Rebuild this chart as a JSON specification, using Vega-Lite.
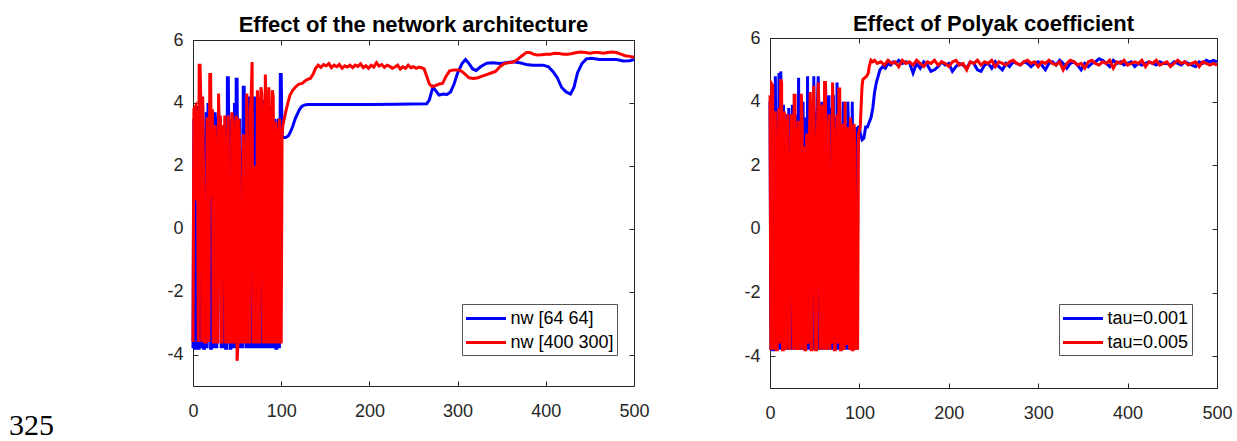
{
  "$schema": "https://vega.github.io/schema/vega-lite/v6.json",
  "padding": {"left": 9, "top": 12, "right": 0, "bottom": 0},
  "bounds": "flush",
  "center": true,
  "spacing": 136,
  "resolve": {"scale": {"color": "independent"}, "legend": {"color": "independent"}},
  "title": {"text": "325", "orient": "bottom", "anchor": "start", "frame": "group", "font": "Liberation Serif", "fontSize": 30, "fontWeight": "normal", "color": "black", "dx": -184, "offset": 12, "baseline": "alphabetic"},
  "config": {
    "font": "Liberation Sans",
    "view": {"stroke": "#262626", "strokeWidth": 1},
    "axis": {"grid": false, "domain": false, "tickColor": "#262626", "tickSize": -5, "tickWidth": 1, "labelFontSize": 18, "labelColor": "#262626", "labelFont": "Liberation Sans", "labelFlush": false, "labelOverlap": false, "title": null, "labelExpr": "datum.value"},
    "axisX": {"labelPadding": 21.5},
    "axisY": {"labelPadding": 15},
    "title": {"fontSize": 22, "fontWeight": "bold", "color": "black", "font": "Liberation Sans", "baseline": "alphabetic", "anchor": "middle"},
    "legend": {"orient": "none", "title": null, "symbolType": "M-2,0H2", "symbolSize": 400, "symbolStrokeWidth": 3, "symbolOffset": 9.5, "labelOffset": 13, "labelFontSize": 18, "labelFont": "Liberation Sans", "labelColor": "black", "strokeColor": "#555555", "fillColor": "white", "padding": 3, "rowPadding": 3}
  },
  "datasets": {
    "L1": [
      {"x":0,"y":-3.8},{"x":1,"y":3.5},{"x":2,"y":-3.8},{"x":3,"y":-3.8},{"x":4,"y":2.2},{"x":5,"y":3.9},{"x":6,"y":-3.8},{"x":7,"y":-3.8},{"x":8,"y":0.8},{"x":9,"y":-3.8},
      {"x":10,"y":3.6},{"x":11,"y":3.9},{"x":12,"y":-3.8},{"x":13,"y":-3.8},{"x":14,"y":2.0},{"x":15,"y":3.7},{"x":16,"y":-3.8},{"x":17,"y":4.0},{"x":18,"y":-0.4},{"x":19,"y":3.8},
      {"x":20,"y":-3.8},{"x":21,"y":-3.8},{"x":22,"y":3.5},{"x":23,"y":1.0},{"x":24,"y":-3.8},{"x":25,"y":3.7},{"x":26,"y":3.0},{"x":27,"y":-3.8},{"x":28,"y":2.5},{"x":29,"y":3.9},
      {"x":30,"y":-0.7},{"x":31,"y":3.5},{"x":32,"y":-3.8},{"x":33,"y":1.5},{"x":34,"y":3.3},{"x":35,"y":-3.8},{"x":36,"y":3.2},{"x":37,"y":-3.8},{"x":38,"y":-3.8},{"x":39,"y":4.8},
      {"x":40,"y":4.8},{"x":41,"y":2.0},{"x":42,"y":-3.8},{"x":43,"y":-3.8},{"x":44,"y":3.5},{"x":45,"y":2.5},{"x":46,"y":-3.8},{"x":47,"y":4.0},{"x":48,"y":-3.8},{"x":49,"y":4.75},
      {"x":50,"y":4.75},{"x":51,"y":-0.8},{"x":52,"y":-3.8},{"x":53,"y":3.5},{"x":54,"y":-3.8},{"x":55,"y":2.5},{"x":56,"y":-3.8},{"x":57,"y":4.5},{"x":58,"y":4.5},{"x":59,"y":2.0},
      {"x":60,"y":-3.8},{"x":61,"y":3.2},{"x":62,"y":-3.8},{"x":63,"y":4.2},{"x":64,"y":4.0},{"x":65,"y":-3.8},{"x":66,"y":3.0},{"x":67,"y":-3.8},{"x":68,"y":4.2},{"x":69,"y":-0.5},
      {"x":70,"y":-3.8},{"x":71,"y":4.2},{"x":72,"y":3.7},{"x":73,"y":-3.8},{"x":74,"y":2.5},{"x":75,"y":-3.8},{"x":76,"y":3.8},{"x":77,"y":-3.8},{"x":78,"y":3.5},{"x":79,"y":-3.8},
      {"x":80,"y":4.1},{"x":81,"y":-3.8},{"x":82,"y":3.5},{"x":83,"y":-3.8},{"x":84,"y":2.8},{"x":85,"y":-3.8},{"x":86,"y":3.5},{"x":87,"y":-3.8},{"x":88,"y":3.9},{"x":89,"y":2.9},
      {"x":90,"y":-3.8},{"x":91,"y":3.4},{"x":92,"y":-3.8},{"x":93,"y":3.5},{"x":94,"y":-3.8},{"x":95,"y":-3.8},{"x":96,"y":3.0},{"x":97,"y":3.5},{"x":98,"y":-3.8},{"x":99,"y":4.9},
      {"x":100,"y":4.9},{"x":101,"y":2.9},{"x":102,"y":2.9},{"x":105,"y":2.9},{"x":108,"y":2.95},{"x":110,"y":3.05},{"x":113,"y":3.25},{"x":116,"y":3.5},{"x":120,"y":3.75},{"x":123,"y":3.88},
      {"x":126,"y":3.93},{"x":130,"y":3.95},{"x":160,"y":3.95},{"x":200,"y":3.95},{"x":230,"y":3.96},{"x":265,"y":3.97},{"x":268,"y":4.1},{"x":272,"y":4.5},{"x":275,"y":4.4},{"x":279,"y":4.25},
      {"x":284,"y":4.28},{"x":288,"y":4.27},{"x":292,"y":4.35},{"x":296,"y":4.6},{"x":300,"y":4.95},{"x":305,"y":5.25},{"x":309,"y":5.38},{"x":313,"y":5.25},{"x":317,"y":5.08},{"x":321,"y":5.03},
      {"x":326,"y":5.15},{"x":333,"y":5.26},{"x":340,"y":5.28},{"x":348,"y":5.25},{"x":355,"y":5.28},{"x":363,"y":5.31},{"x":370,"y":5.28},{"x":378,"y":5.22},{"x":385,"y":5.2},{"x":397,"y":5.2},
      {"x":403,"y":5.15},{"x":408,"y":5.0},{"x":413,"y":4.8},{"x":418,"y":4.49},{"x":423,"y":4.35},{"x":428,"y":4.28},{"x":432,"y":4.5},{"x":436,"y":4.96},{"x":441,"y":5.25},{"x":446,"y":5.4},
      {"x":452,"y":5.42},{"x":461,"y":5.38},{"x":470,"y":5.38},{"x":480,"y":5.38},{"x":488,"y":5.33},{"x":495,"y":5.34},{"x":500,"y":5.38}
    ],
    "L2": [
      {"x":0,"y":-3.6},{"x":1,"y":3.8},{"x":3,"y":3.9},{"x":4,"y":0.9},{"x":5,"y":3.8},{"x":6,"y":-3.6},{"x":7,"y":5.2},{"x":8,"y":5.2},{"x":9,"y":4.0},{"x":10,"y":-3.6},
      {"x":11,"y":4.2},{"x":12,"y":1.6},{"x":13,"y":-3.6},{"x":15,"y":-3.6},{"x":16,"y":3.5},{"x":17,"y":3.5},{"x":18,"y":-3.6},{"x":19,"y":4.9},{"x":20,"y":4.9},{"x":21,"y":1.0},
      {"x":22,"y":3.8},{"x":23,"y":-3.6},{"x":24,"y":-3.6},{"x":25,"y":3.3},{"x":26,"y":2.0},{"x":27,"y":-3.6},{"x":28,"y":-3.6},{"x":29,"y":4.3},{"x":30,"y":2.5},{"x":31,"y":3.6},
      {"x":32,"y":-3.6},{"x":33,"y":-3.6},{"x":34,"y":3.3},{"x":35,"y":-0.5},{"x":36,"y":3.6},{"x":37,"y":-3.6},{"x":38,"y":-3.6},{"x":39,"y":2.0},{"x":40,"y":3.6},{"x":41,"y":-3.6},
      {"x":43,"y":-3.6},{"x":44,"y":3.7},{"x":45,"y":3.4},{"x":46,"y":-3.6},{"x":47,"y":-3.6},{"x":48,"y":3.0},{"x":49,"y":3.6},{"x":50,"y":-4.2},{"x":51,"y":-3.6},{"x":52,"y":3.5},
      {"x":53,"y":2.3},{"x":54,"y":-3.6},{"x":56,"y":-3.6},{"x":57,"y":3.0},{"x":58,"y":2.0},{"x":59,"y":-3.6},{"x":60,"y":-3.6},{"x":61,"y":4.3},{"x":62,"y":0.8},{"x":63,"y":-3.6},
      {"x":64,"y":-3.6},{"x":65,"y":3.8},{"x":66,"y":4.2},{"x":67,"y":5.3},{"x":68,"y":-3.6},{"x":69,"y":-3.6},{"x":70,"y":2.0},{"x":71,"y":-3.6},{"x":72,"y":-3.6},{"x":73,"y":4.4},
      {"x":74,"y":3.9},{"x":75,"y":-3.6},{"x":76,"y":-3.6},{"x":77,"y":4.5},{"x":78,"y":4.3},{"x":79,"y":3.2},{"x":80,"y":-3.6},{"x":81,"y":-3.6},{"x":82,"y":4.9},{"x":83,"y":3.8},
      {"x":84,"y":-3.6},{"x":85,"y":-3.6},{"x":86,"y":4.5},{"x":87,"y":3.0},{"x":88,"y":-3.6},{"x":89,"y":-3.6},{"x":90,"y":4.4},{"x":91,"y":4.2},{"x":92,"y":-3.6},{"x":93,"y":-3.6},
      {"x":94,"y":3.4},{"x":95,"y":2.8},{"x":96,"y":-3.6},{"x":97,"y":-3.6},{"x":98,"y":3.5},{"x":99,"y":-3.6},{"x":100,"y":-3.6},{"x":101,"y":3.0},
      {"x":102,"y":3.3},{"x":105,"y":3.7},{"x":108,"y":4.05},{"x":110,"y":4.25},{"x":113,"y":4.4},{"x":116,"y":4.5},{"x":120,"y":4.6},{"x":124,"y":4.62},
      {"x":127,"y":4.7},{"x":130,"y":4.75},{"x":133,"y":4.78},{"x":136,"y":4.9},{"x":139,"y":5.1},{"x":142,"y":5.2},{"x":145,"y":5.13},{"x":148,"y":5.22},{"x":151,"y":5.18},{"x":154,"y":5.25},
      {"x":157,"y":5.12},{"x":160,"y":5.2},{"x":163,"y":5.15},{"x":166,"y":5.22},{"x":169,"y":5.1},{"x":172,"y":5.18},{"x":175,"y":5.14},{"x":178,"y":5.2},{"x":181,"y":5.12},{"x":184,"y":5.2},
      {"x":187,"y":5.16},{"x":190,"y":5.24},{"x":193,"y":5.12},{"x":196,"y":5.18},{"x":199,"y":5.1},{"x":202,"y":5.2},{"x":205,"y":5.14},{"x":208,"y":5.28},{"x":211,"y":5.17},{"x":214,"y":5.22},
      {"x":217,"y":5.13},{"x":220,"y":5.2},{"x":223,"y":5.16},{"x":226,"y":5.1},{"x":229,"y":5.14},{"x":232,"y":5.2},{"x":235,"y":5.08},{"x":238,"y":5.15},{"x":241,"y":5.1},{"x":244,"y":5.2},
      {"x":247,"y":5.12},{"x":250,"y":5.15},{"x":253,"y":5.1},{"x":256,"y":5.14},{"x":259,"y":5.12},{"x":262,"y":5.08},{"x":265,"y":4.85},{"x":268,"y":4.6},{"x":271,"y":4.52},{"x":275,"y":4.55},
      {"x":279,"y":4.6},{"x":283,"y":4.62},{"x":287,"y":4.85},{"x":291,"y":5.02},{"x":296,"y":5.05},{"x":301,"y":5.05},{"x":305,"y":5.0},{"x":309,"y":4.9},{"x":313,"y":4.8},{"x":318,"y":4.78},
      {"x":323,"y":4.8},{"x":328,"y":4.85},{"x":333,"y":4.9},{"x":338,"y":4.95},{"x":343,"y":5.0},{"x":348,"y":5.15},{"x":353,"y":5.25},{"x":358,"y":5.28},{"x":363,"y":5.3},{"x":368,"y":5.38},
      {"x":373,"y":5.5},{"x":378,"y":5.6},{"x":382,"y":5.6},{"x":386,"y":5.55},{"x":390,"y":5.52},{"x":395,"y":5.53},{"x":400,"y":5.55},{"x":405,"y":5.55},{"x":410,"y":5.58},{"x":415,"y":5.57},
      {"x":420,"y":5.55},{"x":425,"y":5.55},{"x":430,"y":5.57},{"x":435,"y":5.6},{"x":440,"y":5.62},{"x":445,"y":5.6},{"x":450,"y":5.58},{"x":455,"y":5.6},{"x":460,"y":5.6},{"x":465,"y":5.58},
      {"x":470,"y":5.6},{"x":475,"y":5.62},{"x":480,"y":5.6},{"x":485,"y":5.55},{"x":490,"y":5.5},{"x":495,"y":5.48},{"x":500,"y":5.45}
    ],
    "R1": [
      {"x":0,"y":4.0},{"x":1,"y":-3.8},{"x":2,"y":3.4},{"x":3,"y":-3.8},{"x":4,"y":-3.8},{"x":5,"y":1.5},{"x":6,"y":4.8},{"x":7,"y":-1.5},{"x":8,"y":3.8},{"x":9,"y":-3.8},
      {"x":10,"y":4.9},{"x":11,"y":-3.8},{"x":12,"y":4.95},{"x":13,"y":3.8},{"x":14,"y":-3.8},{"x":15,"y":3.9},{"x":16,"y":1.0},{"x":17,"y":-3.8},{"x":18,"y":3.6},{"x":19,"y":2.8},
      {"x":20,"y":-3.8},{"x":21,"y":3.8},{"x":22,"y":-3.8},{"x":23,"y":3.2},{"x":24,"y":-3.8},{"x":25,"y":3.9},{"x":26,"y":2.5},{"x":27,"y":-3.8},{"x":28,"y":3.0},{"x":29,"y":-3.8},
      {"x":30,"y":3.6},{"x":31,"y":-3.8},{"x":32,"y":4.75},{"x":33,"y":-3.8},{"x":34,"y":4.1},{"x":35,"y":1.4},{"x":36,"y":-3.8},{"x":37,"y":4.0},{"x":38,"y":-3.8},{"x":39,"y":3.5},
      {"x":40,"y":2.4},{"x":41,"y":-3.8},{"x":42,"y":4.8},{"x":43,"y":-3.8},{"x":44,"y":3.9},{"x":45,"y":-3.8},{"x":46,"y":3.4},{"x":47,"y":2.6},{"x":48,"y":-3.8},{"x":49,"y":4.8},
      {"x":50,"y":-3.8},{"x":51,"y":3.7},{"x":52,"y":-3.8},{"x":53,"y":3.9},{"x":54,"y":4.8},{"x":55,"y":-3.8},{"x":56,"y":2.0},{"x":57,"y":-3.8},{"x":58,"y":4.0},{"x":59,"y":-3.8},
      {"x":60,"y":3.2},{"x":61,"y":-3.8},{"x":62,"y":4.6},{"x":63,"y":3.5},{"x":64,"y":-3.8},{"x":65,"y":3.6},{"x":66,"y":4.2},{"x":67,"y":-3.8},{"x":68,"y":1.4},{"x":69,"y":3.8},
      {"x":70,"y":-3.8},{"x":71,"y":4.2},{"x":72,"y":-3.8},{"x":73,"y":3.5},{"x":74,"y":-3.8},{"x":75,"y":4.6},{"x":76,"y":2.4},{"x":77,"y":-3.8},{"x":78,"y":3.8},{"x":79,"y":-3.8},
      {"x":80,"y":3.0},{"x":81,"y":-3.8},{"x":82,"y":4.0},{"x":83,"y":2.6},{"x":84,"y":-3.8},{"x":85,"y":3.3},{"x":86,"y":-3.8},{"x":87,"y":4.0},{"x":88,"y":3.1},{"x":89,"y":-3.8},
      {"x":90,"y":1.8},{"x":91,"y":-3.8},{"x":92,"y":4.0},{"x":93,"y":-0.4},{"x":94,"y":-3.8},{"x":95,"y":2.0},{"x":96,"y":-3.8},{"x":97,"y":3.2},{"x":98,"y":3.1},{"x":99,"y":3.2},
      {"x":100,"y":3.2},{"x":101,"y":3.0},{"x":103,"y":2.8},{"x":105,"y":2.85},{"x":107,"y":3.2},{"x":109,"y":3.2},{"x":111,"y":3.35},{"x":113,"y":3.5},{"x":115,"y":3.8},{"x":117,"y":4.3},
      {"x":119,"y":4.6},{"x":121,"y":4.8},{"x":123,"y":5.0},{"x":126,"y":5.1},{"x":129,"y":5.05},{"x":132,"y":5.2},{"x":135,"y":5.15},{"x":138,"y":5.25},{"x":141,"y":5.2},{"x":144,"y":5.3},
      {"x":148,"y":5.2},{"x":152,"y":5.25},{"x":156,"y":5.22},{"x":160,"y":4.9},{"x":164,"y":5.2},{"x":168,"y":5.05},{"x":172,"y":5.25},{"x":176,"y":5.15},{"x":180,"y":4.95},{"x":184,"y":5.0},
      {"x":188,"y":5.1},{"x":192,"y":5.25},{"x":196,"y":5.15},{"x":200,"y":5.2},{"x":204,"y":4.95},{"x":208,"y":5.1},{"x":212,"y":5.2},{"x":216,"y":5.15},{"x":220,"y":5.05},{"x":224,"y":5.25},
      {"x":228,"y":5.2},{"x":232,"y":5.0},{"x":236,"y":4.95},{"x":240,"y":5.15},{"x":244,"y":5.2},{"x":248,"y":5.05},{"x":252,"y":5.25},{"x":256,"y":5.1},{"x":260,"y":5.0},{"x":264,"y":5.2},
      {"x":268,"y":5.1},{"x":272,"y":5.25},{"x":276,"y":5.2},{"x":280,"y":5.15},{"x":284,"y":5.25},{"x":288,"y":5.2},{"x":292,"y":5.1},{"x":296,"y":5.2},{"x":300,"y":5.25},{"x":304,"y":5.15},
      {"x":308,"y":5.0},{"x":312,"y":5.2},{"x":316,"y":5.25},{"x":320,"y":5.15},{"x":324,"y":5.3},{"x":328,"y":5.2},{"x":332,"y":5.05},{"x":336,"y":5.2},{"x":340,"y":5.25},{"x":344,"y":5.15},
      {"x":348,"y":5.0},{"x":352,"y":5.2},{"x":356,"y":5.1},{"x":360,"y":5.2},{"x":364,"y":5.25},{"x":368,"y":5.35},{"x":372,"y":5.3},{"x":376,"y":5.2},{"x":380,"y":5.1},{"x":384,"y":5.3},
      {"x":388,"y":5.2},{"x":392,"y":5.25},{"x":396,"y":5.15},{"x":400,"y":5.2},{"x":404,"y":5.25},{"x":408,"y":5.1},{"x":412,"y":5.2},{"x":416,"y":5.15},{"x":420,"y":5.2},{"x":424,"y":5.25},
      {"x":428,"y":5.2},{"x":432,"y":5.15},{"x":436,"y":5.25},{"x":440,"y":5.2},{"x":444,"y":5.2},{"x":448,"y":5.15},{"x":452,"y":5.25},{"x":456,"y":5.2},{"x":460,"y":5.15},{"x":464,"y":5.25},
      {"x":468,"y":5.2},{"x":472,"y":5.15},{"x":476,"y":5.1},{"x":480,"y":5.25},{"x":484,"y":5.2},{"x":488,"y":5.3},{"x":492,"y":5.25},{"x":496,"y":5.3},{"x":500,"y":5.25}
    ],
    "R2": [
      {"x":0,"y":4.2},{"x":1,"y":-3.8},{"x":2,"y":4.55},{"x":3,"y":4.5},{"x":4,"y":-3.8},{"x":5,"y":-3.6},{"x":6,"y":3.7},{"x":7,"y":-3.8},{"x":8,"y":-3.8},{"x":9,"y":2.0},
      {"x":10,"y":3.8},{"x":11,"y":-3.6},{"x":12,"y":4.7},{"x":13,"y":4.6},{"x":14,"y":-3.8},{"x":15,"y":-3.8},{"x":16,"y":3.7},{"x":17,"y":0.0},{"x":18,"y":-3.8},{"x":19,"y":3.2},
      {"x":20,"y":3.6},{"x":21,"y":-3.6},{"x":22,"y":-3.8},{"x":23,"y":0.4},{"x":24,"y":3.6},{"x":25,"y":3.3},{"x":26,"y":-3.8},{"x":27,"y":4.2},{"x":28,"y":4.2},{"x":29,"y":-3.6},
      {"x":30,"y":-3.8},{"x":31,"y":2.8},{"x":32,"y":3.4},{"x":33,"y":-3.8},{"x":34,"y":-3.6},{"x":35,"y":4.25},{"x":36,"y":3.3},{"x":37,"y":-3.8},{"x":38,"y":2.6},{"x":39,"y":-3.8},
      {"x":40,"y":-3.8},{"x":41,"y":3.0},{"x":42,"y":2.4},{"x":43,"y":-3.6},{"x":44,"y":2.8},{"x":45,"y":4.3},{"x":46,"y":-3.8},{"x":47,"y":-3.8},{"x":48,"y":3.6},{"x":49,"y":4.5},
      {"x":50,"y":1.8},{"x":51,"y":-3.8},{"x":52,"y":-3.8},{"x":53,"y":2.9},{"x":54,"y":4.6},{"x":55,"y":3.5},{"x":56,"y":-3.8},{"x":57,"y":-3.6},{"x":58,"y":3.9},{"x":59,"y":3.7},
      {"x":60,"y":-3.8},{"x":61,"y":4.6},{"x":62,"y":4.6},{"x":63,"y":-3.8},{"x":64,"y":-3.6},{"x":65,"y":2.8},{"x":66,"y":3.6},{"x":67,"y":-3.8},{"x":68,"y":2.0},{"x":69,"y":-3.6},
      {"x":70,"y":4.6},{"x":71,"y":3.2},{"x":72,"y":-3.8},{"x":73,"y":-3.8},{"x":74,"y":2.4},{"x":75,"y":3.6},{"x":76,"y":-3.6},{"x":77,"y":4.4},{"x":78,"y":4.4},{"x":79,"y":-3.8},
      {"x":80,"y":-3.8},{"x":81,"y":3.3},{"x":82,"y":2.4},{"x":83,"y":-3.8},{"x":84,"y":4.0},{"x":85,"y":-3.6},{"x":86,"y":-3.6},{"x":87,"y":3.2},{"x":88,"y":1.5},{"x":89,"y":-3.8},
      {"x":90,"y":3.5},{"x":91,"y":3.0},{"x":92,"y":-3.8},{"x":93,"y":-3.8},{"x":94,"y":3.3},{"x":95,"y":2.6},{"x":96,"y":-3.8},{"x":97,"y":0.0},{"x":98,"y":-3.8},{"x":99,"y":3.0},
      {"x":100,"y":3.1},{"x":101,"y":3.2},{"x":102,"y":3.9},{"x":103,"y":4.5},{"x":104,"y":4.7},{"x":106,"y":4.75},{"x":108,"y":4.8},{"x":110,"y":4.9},{"x":111,"y":5.1},{"x":113,"y":5.3},
      {"x":115,"y":5.25},{"x":117,"y":5.3},{"x":120,"y":5.2},{"x":124,"y":5.25},{"x":128,"y":5.15},{"x":132,"y":5.3},{"x":136,"y":5.2},{"x":140,"y":5.25},{"x":144,"y":5.1},{"x":148,"y":5.3},
      {"x":152,"y":5.2},{"x":156,"y":5.25},{"x":160,"y":5.15},{"x":164,"y":5.3},{"x":168,"y":5.2},{"x":172,"y":5.1},{"x":176,"y":5.25},{"x":180,"y":5.2},{"x":184,"y":5.3},{"x":188,"y":5.15},
      {"x":192,"y":5.25},{"x":196,"y":5.2},{"x":200,"y":5.1},{"x":204,"y":5.25},{"x":208,"y":5.3},{"x":212,"y":5.15},{"x":216,"y":5.2},{"x":220,"y":5.0},{"x":224,"y":5.25},{"x":228,"y":5.2},
      {"x":232,"y":5.3},{"x":236,"y":5.15},{"x":240,"y":5.25},{"x":244,"y":5.2},{"x":248,"y":5.3},{"x":252,"y":5.1},{"x":256,"y":5.25},{"x":260,"y":5.2},{"x":264,"y":5.15},{"x":268,"y":5.25},
      {"x":272,"y":5.3},{"x":276,"y":5.2},{"x":280,"y":5.15},{"x":284,"y":5.25},{"x":288,"y":5.3},{"x":292,"y":5.2},{"x":296,"y":5.25},{"x":300,"y":5.1},{"x":304,"y":5.25},{"x":308,"y":5.2},
      {"x":312,"y":5.3},{"x":316,"y":5.2},{"x":320,"y":5.15},{"x":324,"y":5.25},{"x":328,"y":5.0},{"x":332,"y":5.2},{"x":336,"y":5.3},{"x":340,"y":5.25},{"x":344,"y":5.15},{"x":348,"y":5.2},
      {"x":352,"y":5.05},{"x":356,"y":5.25},{"x":360,"y":5.3},{"x":364,"y":5.2},{"x":368,"y":5.15},{"x":372,"y":5.25},{"x":376,"y":5.2},{"x":380,"y":5.3},{"x":384,"y":5.05},{"x":388,"y":5.25},
      {"x":392,"y":5.2},{"x":396,"y":5.3},{"x":400,"y":5.15},{"x":404,"y":5.2},{"x":408,"y":5.25},{"x":412,"y":5.2},{"x":416,"y":5.3},{"x":420,"y":5.1},{"x":424,"y":5.25},{"x":428,"y":5.2},
      {"x":432,"y":5.3},{"x":436,"y":5.15},{"x":440,"y":5.2},{"x":444,"y":5.25},{"x":448,"y":5.1},{"x":452,"y":5.2},{"x":456,"y":5.3},{"x":460,"y":5.2},{"x":464,"y":5.25},{"x":468,"y":5.15},
      {"x":472,"y":5.2},{"x":476,"y":5.25},{"x":480,"y":5.1},{"x":484,"y":5.25},{"x":488,"y":5.2},{"x":492,"y":5.15},{"x":496,"y":5.2},{"x":500,"y":5.15}
    ]
  },
  "hconcat": [
    {
      "width": 441,
      "height": 346,
      "title": {"text": "Effect of the network architecture", "offset": -6},
      "layer": [
        {
          "data": {"name": "L1"},
          "mark": {"type": "line", "strokeWidth": 3},
          "encoding": {
            "x": {"field": "x", "type": "quantitative", "scale": {"domain": [0, 500], "nice": false}, "axis": {"orient": "bottom", "values": [0, 100, 200, 300, 400, 500]}},
            "y": {"field": "y", "type": "quantitative", "scale": {"domain": [-5, 6], "nice": false}, "axis": {"orient": "left", "values": [-4, -2, 0, 2, 4, 6]}},
            "color": {"datum": "nw [64 64]", "type": "nominal", "scale": {"domain": ["nw [64 64]", "nw [400 300]"], "range": ["#0000ff", "#ff0000"]}, "legend": {"legendX": 269, "legendY": 264}}
          }
        },
        {
          "data": {"name": "L2"},
          "mark": {"type": "line", "strokeWidth": 3},
          "encoding": {
            "x": {"field": "x", "type": "quantitative", "axis": null},
            "y": {"field": "y", "type": "quantitative", "axis": null},
            "color": {"datum": "nw [400 300]", "type": "nominal"}
          }
        },
        {
          "data": {"name": "L1"},
          "mark": {"type": "point", "opacity": 0},
          "encoding": {
            "x": {"field": "x", "type": "quantitative", "axis": {"orient": "top", "labels": false, "labelPadding": 0, "values": [0, 100, 200, 300, 400, 500]}},
            "y": {"field": "y", "type": "quantitative", "axis": {"orient": "right", "labels": false, "labelPadding": 0, "values": [-4, -2, 0, 2, 4, 6]}}
          }
        }
      ],
      "resolve": {"axis": {"x": "independent", "y": "independent"}}
    },
    {
      "width": 447,
      "height": 350,
      "title": {"text": "Effect of Polyak coefficient", "offset": -7},
      "layer": [
        {
          "data": {"name": "R1"},
          "mark": {"type": "line", "strokeWidth": 3},
          "encoding": {
            "x": {"field": "x", "type": "quantitative", "scale": {"domain": [0, 500], "nice": false}, "axis": {"orient": "bottom", "values": [0, 100, 200, 300, 400, 500]}},
            "y": {"field": "y", "type": "quantitative", "scale": {"domain": [-5, 6], "nice": false}, "axis": {"orient": "left", "values": [-4, -2, 0, 2, 4, 6]}},
            "color": {"datum": "tau=0.001", "type": "nominal", "scale": {"domain": ["tau=0.001", "tau=0.005"], "range": ["#0000ff", "#ff0000"]}, "legend": {"legendX": 289, "legendY": 266}}
          }
        },
        {
          "data": {"name": "R2"},
          "mark": {"type": "line", "strokeWidth": 3},
          "encoding": {
            "x": {"field": "x", "type": "quantitative", "axis": null},
            "y": {"field": "y", "type": "quantitative", "axis": null},
            "color": {"datum": "tau=0.005", "type": "nominal"}
          }
        },
        {
          "data": {"name": "R1"},
          "mark": {"type": "point", "opacity": 0},
          "encoding": {
            "x": {"field": "x", "type": "quantitative", "axis": {"orient": "top", "labels": false, "labelPadding": 0, "values": [0, 100, 200, 300, 400, 500]}},
            "y": {"field": "y", "type": "quantitative", "axis": {"orient": "right", "labels": false, "labelPadding": 0, "values": [-4, -2, 0, 2, 4, 6]}}
          }
        }
      ],
      "resolve": {"axis": {"x": "independent", "y": "independent"}}
    }
  ]
}
